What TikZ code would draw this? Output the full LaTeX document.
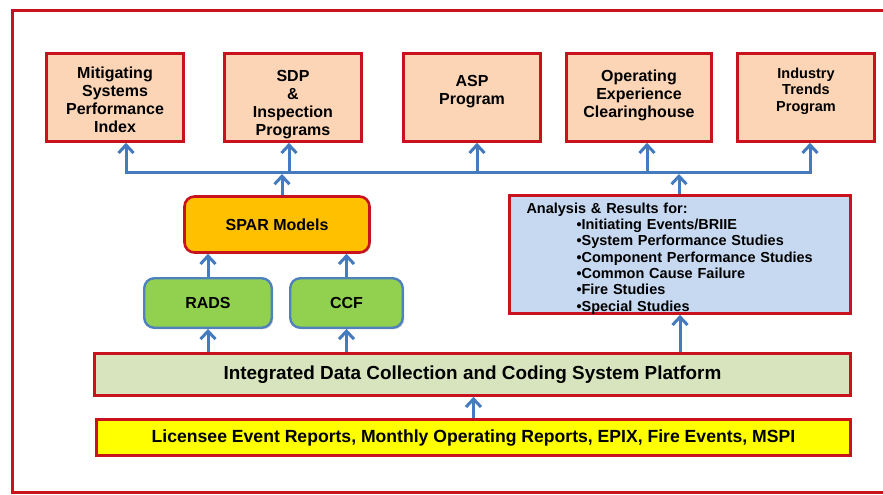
\documentclass[tikz,border=0pt]{standalone}
\usepackage{fontspec}
\setmainfont{Liberation Sans}
\usetikzlibrary{arrows.meta,shadows}
\definecolor{frameRed}{RGB}{200,18,30}
\definecolor{peach}{RGB}{251,213,181}
\definecolor{sparOrange}{RGB}{255,192,0}
\definecolor{radsGreen}{RGB}{146,208,80}
\definecolor{radsBorder}{RGB}{79,129,189}
\definecolor{anaBlue}{RGB}{198,217,241}
\definecolor{intGreen}{RGB}{215,228,189}
\definecolor{yel}{RGB}{255,255,0}
\definecolor{arrBlue}{RGB}{68,122,190}
\begin{document}
\begin{tikzpicture}[x=1pt,y=-1pt,
  shadowed/.style={drop shadow={shadow xshift=1.5pt,shadow yshift=-1.5pt,opacity=0.3}},
  topbox/.style={draw=frameRed,line width=2.6pt,fill=peach,minimum height=88pt,
    inner sep=0pt,align=center,font=\bfseries\fontsize{16}{18}\selectfont,shadowed},
  greenbox/.style={draw=radsBorder,line width=2.4pt,fill=radsGreen,rounded corners=10pt,
    minimum height=49.5pt,inner sep=0pt,font=\bfseries\fontsize{16}{18}\selectfont,shadowed},
  widebox/.style={draw=frameRed,line width=2.6pt,inner sep=0pt,shadowed},
  arr/.style={draw=arrBlue,line width=3pt,line join=miter,
    -{Straight Barb[length=8pt,width=15pt]}}]
\useasboundingbox (0,0) rectangle (883,495);
\draw[frameRed,line width=3pt] (883,11) -- (12,11) -- (12,492) -- (883,492);

% top row
\node[topbox,minimum width=137pt] (m1) at (115,97.5) {Mitigating\\Systems\\Performance\\Index\\[-23pt]};
\node[topbox,minimum width=137pt] (m2) at (293,97.5) {SDP\\\&\\Inspection\\Programs\\[-28pt]};
\node[topbox,minimum width=137pt] (m3) at (472,97.5) {ASP\\Program\\[-3pt]};
\node[topbox,minimum width=145pt] (m4) at (639,97.5) {Operating\\Experience\\Clearinghouse\\[-10pt]};
\node[topbox,minimum width=137pt,font=\bfseries\fontsize{14.5}{16.5}\selectfont] (m5) at (806,97.5) {Industry\\Trends\\Program\\[-0.5pt]};

% middle
\node[draw=frameRed,line width=2.6pt,fill=sparOrange,rounded corners=10pt,
  minimum width=185pt,minimum height=56pt,inner sep=0pt,
  font=\bfseries\fontsize{16}{18}\selectfont,shadowed] (spar) at (277,224.5) {SPAR Models};
\node[greenbox,minimum width=127.5pt] (rads) at (208,303) {RADS};
\node[greenbox,minimum width=112.5pt] (ccf) at (346.5,303) {CCF};
\node[draw=frameRed,line width=2.6pt,fill=anaBlue,minimum height=118pt,
  text width=307pt,inner xsep=17pt,inner ysep=0pt,align=left,
  font=\bfseries\fontsize{14.5}{16.3}\selectfont,shadowed] (ana) at (680,254.5)
  {Analysis \& Results for:\\
   \hspace*{50pt}•Initiating Events/BRIIE\\
   \hspace*{50pt}•System Performance Studies\\
   \hspace*{50pt}•Component Performance Studies\\
   \hspace*{50pt}•Common Cause Failure\\
   \hspace*{50pt}•Fire Studies\\
   \hspace*{50pt}•Special Studies\par\kern-8pt};

% bottom
\node[widebox,fill=intGreen,minimum width=756pt,minimum height=42pt,
  font=\bfseries\fontsize{18.9}{20}\selectfont] (integ) at (472.5,374.5)
  {Integrated Data Collection and Coding System Platform};
\node[widebox,fill=yel,minimum width=754pt,minimum height=36pt,
  font=\bfseries\fontsize{17.6}{20}\selectfont] (src) at (473.5,437.5)
  {Licensee Event Reports, Monthly Operating Reports, EPIX, Fire Events, MSPI};

% bus
\coordinate (a1) at (126,172);
\coordinate (a2) at (289,172);
\coordinate (a3) at (477,172);
\coordinate (a4) at (647,172);
\coordinate (a5) at (810,172);
\coordinate (s1) at (282,174);
\coordinate (s2) at (679,174);
\draw[arr] (a2) -- (a1) -- (a1 |- m1.south);
\draw[arr] (a4) -- (a5) -- (a5 |- m5.south);
\draw[arrBlue,line width=3pt] (a2) -- (a4);
\draw[arr] (a2) -- (a2 |- m2.south);
\draw[arr] (a3) -- (a3 |- m3.south);
\draw[arr] (a4) -- (a4 |- m4.south);
\draw[arr] (s1 |- spar.north) -- (s1);
\draw[arr] (s2 |- ana.north) -- (s2);

% lower arrows
\draw[arr] (rads.north) -- (rads.north |- spar.south);
\draw[arr] (ccf.north) -- (ccf.north |- spar.south);
\draw[arr] (rads.south |- integ.north) -- (rads.south);
\draw[arr] (ccf.south |- integ.north) -- (ccf.south);
\draw[arr] (ana.south |- integ.north) -- (ana.south);
\draw[arr] (src.north) -- (src.north |- integ.south);
\end{tikzpicture}
\end{document}
